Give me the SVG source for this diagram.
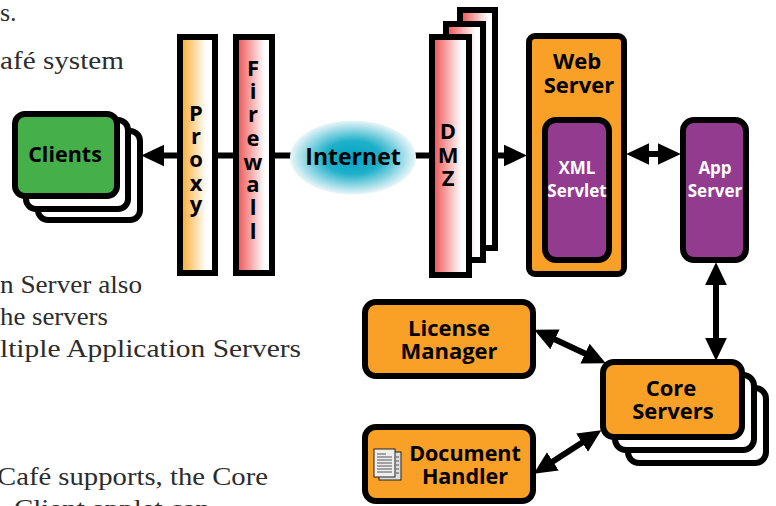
<svg xmlns="http://www.w3.org/2000/svg" width="776" height="506" viewBox="0 0 776 506">
<style>
.bg{font-family:"Liberation Serif",serif;font-size:26px;fill:#2c2c2c}
.t{font-family:"Open Sans","Liberation Sans",sans-serif;font-weight:700;font-size:22px;fill:#000;text-anchor:middle}
.w{font-family:"Open Sans","Liberation Sans",sans-serif;font-weight:700;font-size:17px;fill:#fff;text-anchor:middle}
.s{stroke:#000;stroke-width:6;fill:#fff}
.o{stroke:#000;stroke-width:6;fill:#F9A026}
.p{stroke:#000;stroke-width:6;fill:#933B8F}
.c{stroke:#000;stroke-width:6;fill:none}
</style>
<defs>
<linearGradient id="org"><stop offset="0" stop-color="#F9A826"/><stop offset=".75" stop-color="#fff"/></linearGradient>
<linearGradient id="red"><stop offset="0" stop-color="#EE4B4B"/><stop offset=".8" stop-color="#fff"/></linearGradient>
<radialGradient id="net"><stop offset="0" stop-color="#00A5C4"/><stop offset=".45" stop-color="#1FB0CA"/><stop offset="1" stop-color="#EAF6F9"/></radialGradient>
<marker id="a" markerUnits="userSpaceOnUse" markerWidth="24" markerHeight="24" viewBox="0 0 22 22" refX="1" refY="11" orient="auto-start-reverse"><path d="M0 1L21 11L0 21Z" fill="#000"/></marker>
</defs>
<rect width="776" height="506" fill="#fff"/>
<g id="page-text">
<text class="bg" x="0" y="21">s.</text>
<text class="bg" x="0" y="69" textLength="124" lengthAdjust="spacingAndGlyphs">afé system</text>
<text class="bg" x="0" y="293" textLength="142" lengthAdjust="spacingAndGlyphs">n Server also</text>
<text class="bg" x="0" y="325" textLength="108" lengthAdjust="spacingAndGlyphs">he servers</text>
<text class="bg" x="0" y="357" textLength="301" lengthAdjust="spacingAndGlyphs">ltiple Application Servers</text>
<text class="bg" x="-3" y="485" textLength="271" lengthAdjust="spacingAndGlyphs">Café supports, the Core</text>
<text class="bg" x="14" y="517" textLength="196" lengthAdjust="spacingAndGlyphs">Client applet can</text>
</g>
<g id="connectors">
<line class="c" x1="163" y1="155.500" x2="295" y2="155.500" marker-start="url(#a)"/>
<line class="c" x1="408" y1="155.500" x2="432" y2="155.500"/>
<line class="c" x1="484" y1="155.500" x2="505" y2="155.500" marker-end="url(#a)"/>
<line class="c" x1="648" y1="154" x2="659" y2="154" marker-start="url(#a)" marker-end="url(#a)"/>
<line class="c" x1="716" y1="284" x2="716" y2="339" marker-start="url(#a)" marker-end="url(#a)"/>
<line class="c" x1="554" y1="339" x2="586" y2="354" marker-start="url(#a)" marker-end="url(#a)"/>
<line class="c" x1="552" y1="462" x2="583" y2="442" marker-start="url(#a)" marker-end="url(#a)"/>
</g>
<g id="clients">
<rect class="s" x="38" y="131" width="102" height="89" rx="10"/>
<rect class="s" x="26" y="120" width="102" height="89" rx="10"/>
<rect x="15" y="114" width="102" height="82" rx="10" fill="#45B04A" stroke="#000" stroke-width="6"/>
<text class="t" x="65" y="162" style="font-size:21.500px">Clients</text>
</g>
<g id="proxy">
<rect x="180" y="37" width="35" height="236" fill="url(#org)" stroke="#000" stroke-width="6"/>
<text class="t" x="196" y="121">P</text><text class="t" x="196" y="144">r</text><text class="t" x="196" y="167">o</text><text class="t" x="196" y="191">x</text><text class="t" x="196" y="212">y</text>
</g>
<g id="firewall">
<rect x="236" y="37" width="36" height="236" fill="url(#red)" stroke="#000" stroke-width="6"/>
<text class="t" x="253" y="76">F</text><text class="t" x="253" y="99">i</text><text class="t" x="253" y="122">r</text><text class="t" x="253" y="146">e</text><text class="t" x="253" y="170">w</text><text class="t" x="253" y="192">a</text><text class="t" x="253" y="215">l</text><text class="t" x="253" y="239">l</text>
</g>
<g id="internet">
<ellipse cx="353" cy="157.500" rx="63" ry="37" fill="url(#net)"/>
<text class="t" x="353" y="165" style="font-size:23px">Internet</text>
</g>
<g id="dmz">
<rect x="460" y="10" width="35" height="238" fill="url(#red)" stroke="#000" stroke-width="6"/>
<rect x="446" y="24" width="37" height="236" fill="url(#red)" stroke="#000" stroke-width="6"/>
<rect x="432" y="37" width="37" height="238" fill="url(#red)" stroke="#000" stroke-width="6"/>
<text class="t" x="448" y="139">D</text><text class="t" x="448" y="163">M</text><text class="t" x="448" y="186">Z</text>
</g>
<g id="web-server">
<rect class="o" x="529" y="36" width="95" height="238" rx="6"/>
<text class="t" x="577" y="69">Web</text><text class="t" x="579" y="93">Server</text>
<g id="xml-servlet">
<rect class="p" x="545" y="120" width="64" height="140" rx="11"/>
<text class="w" x="577" y="174">XML</text><text class="w" x="577" y="197">Servlet</text>
</g>
</g>
<g id="app-server">
<rect class="p" x="683" y="120" width="63" height="140" rx="11"/>
<text class="w" x="715" y="174">App</text><text class="w" x="715" y="197">Server</text>
</g>
<g id="license-manager">
<rect class="o" x="365" y="302" width="168" height="74" rx="11"/>
<text class="t" x="449" y="336">License</text><text class="t" x="449" y="359">Manager</text>
</g>
<g id="document-handler">
<rect class="o" x="365" y="427" width="168" height="74" rx="11"/>
<text class="t" x="465" y="461" style="font-size:21.500px">Document</text><text class="t" x="465" y="484" style="font-size:21.500px">Handler</text>
<g id="doc-icon">
<rect x="379" y="452" width="22" height="28" fill="#ddd" stroke="#222"/>
<rect x="374" y="449" width="21" height="28" fill="#eee" stroke="#222"/>
<path d="M377 454h9M377 457h15M377 460h15M377 463h15M377 466h15M377 469h15M377 472h15M396 457h3M396 461h3M396 465h3M396 469h3M396 473h3" stroke="#555" fill="none"/>
</g>
</g>
<g id="core-servers">
<rect class="s" x="628" y="388" width="138" height="75" rx="11"/>
<rect class="s" x="615" y="375" width="139" height="75" rx="11"/>
<rect class="o" x="603" y="362" width="139" height="75" rx="11"/>
<text class="t" x="671" y="396">Core</text><text class="t" x="673" y="419">Servers</text>
</g>
</svg>
